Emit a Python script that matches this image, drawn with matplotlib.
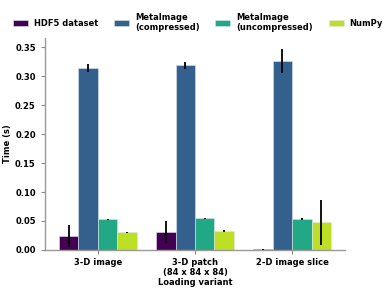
import matplotlib
matplotlib.use("Agg")
import matplotlib.pyplot as plt
import numpy as np

variants = ["3-D image", "3-D patch\n(84 x 84 x 84)", "2-D image slice"]
methods = ["HDF5 dataset", "MetaImage\n(compressed)", "MetaImage\n(uncompressed)", "NumPy"]
means = {
    "HDF5 dataset": [0.024, 0.0305, 0.001],
    "MetaImage\n(compressed)": [0.314, 0.319, 0.326],
    "MetaImage\n(uncompressed)": [0.053, 0.0546, 0.0534],
    "NumPy": [0.0305, 0.0327, 0.048],
}
errs = {
    "HDF5 dataset": [0.019, 0.019, 0.0005],
    "MetaImage\n(compressed)": [0.007, 0.006, 0.021],
    "MetaImage\n(uncompressed)": [0.0008, 0.0012, 0.0025],
    "NumPy": [0.001, 0.0012, 0.039],
}
colors = ["#440154", "#33608c", "#22a884", "#bddf26"]

plt.rcParams["font.family"] = "DejaVu Sans"
plt.rcParams["font.weight"] = "bold"
fig = plt.figure(figsize=(3.9, 2.93), dpi=100)
ax = fig.add_axes([0.115, 0.147, 0.77, 0.723])

x = np.arange(len(variants))
w = 0.2
for i, m in enumerate(methods):
    pos = x - 0.3 + i * w
    ax.bar(pos, means[m], width=w, color=colors[i], edgecolor="#dde6ee",
           linewidth=0.4, label=m, zorder=2)
    ax.errorbar(pos, means[m], yerr=errs[m], fmt="none", ecolor="black",
                elinewidth=1.3, capsize=0, zorder=3)

fs = 6
ax.set_xlim(-0.545, 2.545)
ax.set_ylim(0, 0.366)
ax.set_yticks(np.arange(0, 0.351, 0.05))
ax.set_yticklabels([f"{v:.2f}" for v in np.arange(0, 0.351, 0.05)])
ax.set_xticks(x)
ax.set_xticklabels(variants)
ax.tick_params(labelsize=fs, colors="#888888", width=0.8, length=3, labelcolor="black")
ax.tick_params(axis="x", pad=2.5)
for lab in ax.get_xticklabels() + ax.get_yticklabels():
    lab.set_fontweight("bold")
ax.spines["top"].set_visible(False)
ax.spines["right"].set_visible(False)
for s in ["left", "bottom"]:
    ax.spines[s].set_color("#999999")
    ax.spines[s].set_linewidth(1.0)
ax.set_ylabel("Time (s)", fontsize=fs, fontweight="bold", labelpad=2)
ax.set_xlabel("Loading variant", fontsize=fs, fontweight="bold", labelpad=1)

leg = ax.legend(loc="lower center", bbox_to_anchor=(0.51, 1.0), ncol=4, frameon=False,
                prop={"size": fs, "weight": "bold"}, handlelength=1.8, handleheight=0.6,
                columnspacing=1.9, handletextpad=0.7, borderaxespad=0.3)
fig.savefig("out.png", dpi=100)
